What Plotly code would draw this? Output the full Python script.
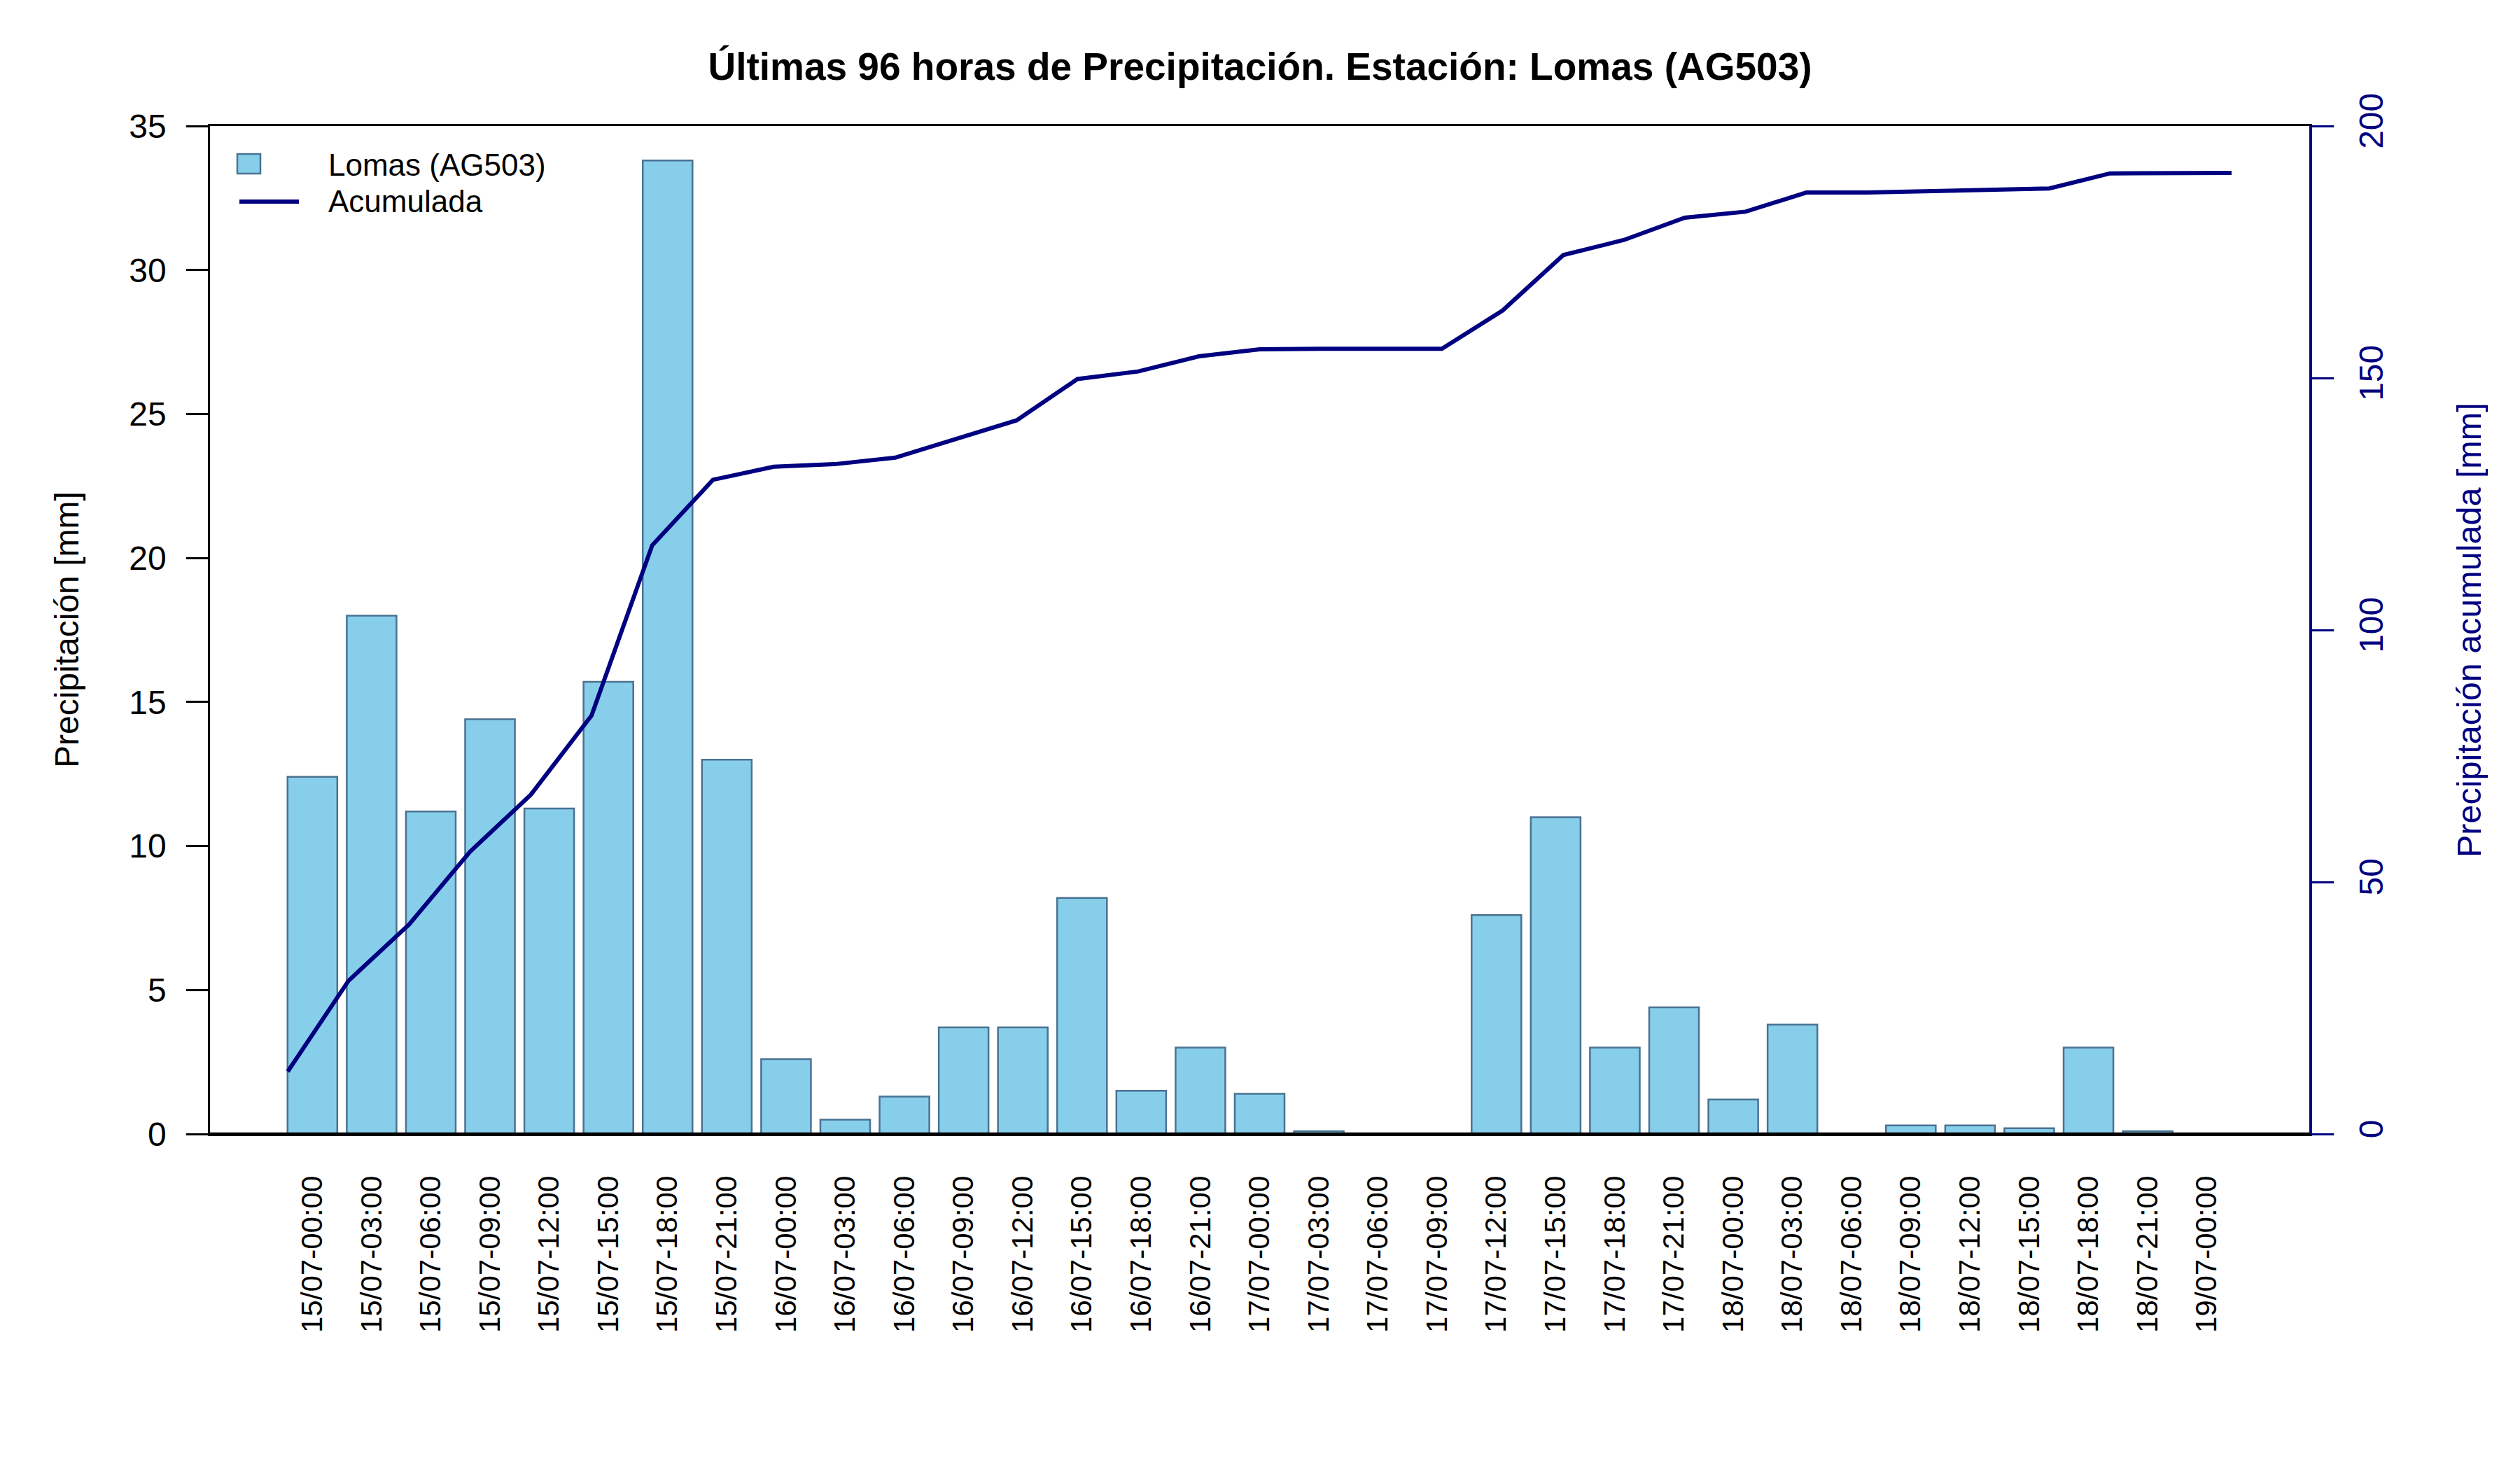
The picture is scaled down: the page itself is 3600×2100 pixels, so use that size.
import plotly.graph_objects as go

# ---- data ----
labels = ["15/07-00:00", "15/07-03:00", "15/07-06:00", "15/07-09:00", "15/07-12:00",
          "15/07-15:00", "15/07-18:00", "15/07-21:00", "16/07-00:00", "16/07-03:00",
          "16/07-06:00", "16/07-09:00", "16/07-12:00", "16/07-15:00", "16/07-18:00",
          "16/07-21:00", "17/07-00:00", "17/07-03:00", "17/07-06:00", "17/07-09:00",
          "17/07-12:00", "17/07-15:00", "17/07-18:00", "17/07-21:00", "18/07-00:00",
          "18/07-03:00", "18/07-06:00", "18/07-09:00", "18/07-12:00", "18/07-15:00",
          "18/07-18:00", "18/07-21:00", "19/07-00:00"]
precip = [12.4, 18.0, 11.2, 14.4, 11.3, 15.7, 33.8, 13.0, 2.6, 0.5,
          1.3, 3.7, 3.7, 8.2, 1.5, 3.0, 1.4, 0.1, 0.0, 0.0,
          7.6, 11.0, 3.0, 4.4, 1.2, 3.8, 0.0, 0.3, 0.3, 0.2,
          3.0, 0.1, 0.0]
acumulada = [12.4, 30.4, 41.6, 56.0, 67.3, 83.0, 116.8, 129.8, 132.4, 132.9,
             134.2, 137.9, 141.6, 149.8, 151.3, 154.3, 155.7, 155.8, 155.8, 155.8,
             163.4, 174.4, 177.4, 181.8, 183.0, 186.8, 186.8, 187.1, 187.4, 187.6,
             190.6, 190.7, 190.7]
left_ticks = [0, 5, 10, 15, 20, 25, 30, 35]
right_ticks = [0, 50, 100, 150, 200]

title = "Últimas 96 horas de Precipitación. Estación: Lomas (AG503)"
series_name = "Lomas (AG503)"
line_name = "Acumulada"

# ---- style ----
FONT = "Liberation Sans, Arial, sans-serif"
BAR_FILL = "#87CEEB"
BAR_EDGE = "#4A7291"
NAVY = "#000080"

W, H = 3600, 2100
L, R, T, B = 300, 301, 180, 480
PW, PH = W - L - R, H - T - B

def px2paper_x(px):
    return (px - L) / PW

def px2paper_y(py):
    return (H - B - py) / PH

fig = go.Figure()

fig.add_trace(go.Bar(
    x=labels, y=precip, name=series_name, width=0.84,
    marker=dict(color=BAR_FILL, line=dict(color=BAR_EDGE, width=2.5)),
    showlegend=False, xaxis="x", yaxis="y",
))

fig.add_trace(go.Scatter(
    x=labels, y=acumulada, name=line_name, mode="lines",
    line=dict(color=NAVY, width=6),
    showlegend=False, xaxis="x2", yaxis="y2",
))

fig.update_layout(
    width=W, height=H,
    margin=dict(l=L, r=R, t=T, b=B, autoexpand=False),
    paper_bgcolor="white", plot_bgcolor="white",
    font=dict(family=FONT, color="black", size=48),
    title=dict(text="<b>" + title + "</b>", x=0.5, xanchor="center",
               y=1 - 95 / H, yanchor="middle", xref="container", yref="container",
               font=dict(family=FONT, size=55, color="black")),
    xaxis=dict(type="category", range=[-1.73, 33.73], showgrid=False, zeroline=False,
               showline=True, mirror=True, linecolor="black", linewidth=2.8,
               ticks="", tickangle=-90, tickfont=dict(size=42, color="black"),
               ticklabelstandoff=40),
    xaxis2=dict(type="category", range=[-1.28, 33.28], overlaying="x", anchor="y2",
                visible=False, showgrid=False, zeroline=False),
    yaxis=dict(range=[0, 35], tickvals=left_ticks, showgrid=False, zeroline=False,
               showline=True, linecolor="black", linewidth=2.5,
               ticks="outside", ticklen=31, tickwidth=2.5, tickcolor="black",
               tickfont=dict(size=48, color="black"), ticklabelstandoff=19),
    yaxis2=dict(range=[0, 200], tickvals=right_ticks, overlaying="y", side="right",
                anchor="x2", showgrid=False, zeroline=False,
                showline=True, linecolor=NAVY, linewidth=3.5,
                ticks="outside", ticklen=31, tickwidth=2.5, tickcolor=NAVY,
                tickangle=-90, tickfont=dict(size=48, color=NAVY), ticklabelstandoff=13),
)

# thicker bottom frame line, as in the reference
fig.add_shape(type="line", xref="paper", yref="paper", x0=0, x1=1, y0=0, y1=0,
              line=dict(color="black", width=4.5), layer="above")

# axis titles
fig.add_annotation(text="Precipitación [mm]", xref="paper", yref="paper",
                   x=px2paper_x(95), y=0.5, textangle=-90, showarrow=False,
                   xanchor="center", yanchor="middle",
                   font=dict(family=FONT, size=48, color="black"))
fig.add_annotation(text="Precipitación acumulada [mm]", xref="paper", yref="paper",
                   x=px2paper_x(3527), y=0.5, textangle=-90, showarrow=False,
                   xanchor="center", yanchor="middle",
                   font=dict(family=FONT, size=48.5, color=NAVY))

# manual legend (R-style)
fig.add_shape(type="rect", xref="paper", yref="paper",
              x0=px2paper_x(339), x1=px2paper_x(372), y0=px2paper_y(248), y1=px2paper_y(220),
              fillcolor=BAR_FILL, line=dict(color=BAR_EDGE, width=2.5))
fig.add_shape(type="line", xref="paper", yref="paper",
              x0=px2paper_x(342), x1=px2paper_x(427), y0=px2paper_y(288), y1=px2paper_y(288),
              line=dict(color=NAVY, width=6))
fig.add_annotation(text=series_name, xref="paper", yref="paper",
                   x=px2paper_x(467), y=px2paper_y(236), showarrow=False,
                   xanchor="left", yanchor="middle",
                   font=dict(family=FONT, size=44, color="black"))
fig.add_annotation(text=line_name, xref="paper", yref="paper",
                   x=px2paper_x(467), y=px2paper_y(288), showarrow=False,
                   xanchor="left", yanchor="middle",
                   font=dict(family=FONT, size=44, color="black"))

fig.write_html("out.html")
